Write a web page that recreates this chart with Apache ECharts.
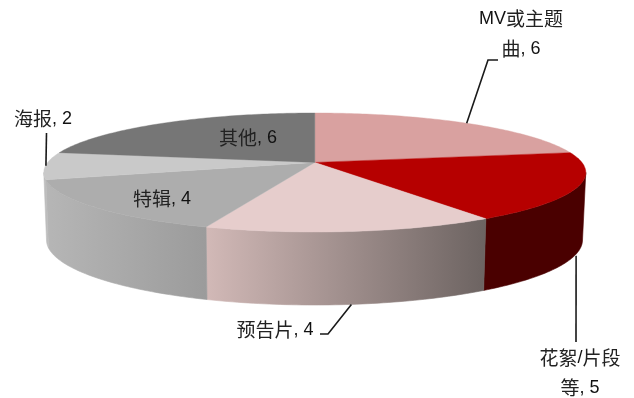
<!DOCTYPE html>
<html>
<head>
<meta charset="utf-8">
<style>html,body{margin:0;padding:0;background:#fff}#chart{width:634px;height:398px}</style>
<script src="https://cdn.jsdelivr.net/npm/echarts@6/dist/echarts.min.js"></script>
</head>
<body>
<div id="chart"></div>
<script>
// Content mix by category
const categories = ['MV或主题\n曲', '花絮/片段\n等', '预告片', '特辑', '海报', '其他'];
const values = [6, 5, 4, 4, 2, 6];

// Surface and side colours per category
const topColors = ['#d9a1a0', '#b60000', '#e6cdcc', '#adadad', '#c9c9c9', '#767676'];
const wallColors = [
  ['#c09090', '#c09090'],
  ['#4a0000', '#4a0000'],
  ['#d2b9b7', '#6c6361'],
  ['#b6b6b6', '#9b9b9b'],
  ['#bdbdbd', '#bdbdbd'],
  ['#6a6a6a', '#6a6a6a']
];

// Disc outlines: the upper face and the lower rim, with the perspective shift
const topDisc = { cx: 314.8, cy: 172.5, rx: 271, ry: 59.5 };
const bottomDisc = { cx: 314.5, cy: 240, rx: 268, ry: 65 };
const tilt = 0.17;
const wallFrom = 99.8, wallTo = 260.2;

// Label centres and leader bends, in page pixels
const labelCenters = [[521, 34], [580, 373], [275, 330], [162, 199], [43, 119], [248, 138]];
const leaderBends = [
  [[488, 60], [498, 60]],
  [[576, 342]],
  [[328, 334], [320, 334]],
  null,
  [[46.5, 133]],
  null
];
const leaderSurface = [topDisc, bottomDisc, bottomDisc, null, topDisc, null];
const leaderNudge = [0, 1.6, 0, 0, 0.4, 0];

const cjkFont = '19px "Noto Sans CJK SC", sans-serif';
const latinFont = '18px "Liberation Sans", sans-serif';
const total = values.reduce((a, b) => a + b, 0);

function sliceRange(i) {
  let start = 0;
  for (let k = 0; k < i; k++) start += values[k];
  return [start / total * 360, (start + values[i]) / total * 360];
}

// Projects a point of the unit circle onto a disc outline; angle runs clockwise from 12 o'clock
function project(disc, deg, radius) {
  const t = deg * Math.PI / 180;
  const x = Math.sin(t) * radius, y = Math.cos(t) * radius;
  const d = 1 + tilt * y;
  return [
    disc.cx + disc.rx * x * Math.sqrt(1 - tilt * tilt) / d,
    disc.cy - disc.ry * (y + tilt) / d
  ];
}

function arc(disc, from, to) {
  const pts = [];
  const n = Math.max(2, Math.ceil(Math.abs(to - from)));
  for (let k = 0; k <= n; k++) pts.push(project(disc, from + (to - from) * k / n, 1));
  return pts;
}

// Splits a label into runs so CJK and Latin glyphs get their own style
function richLabel(text) {
  return text.split('\n').map(line =>
    line.replace(/[\u4e00-\u9fff]+|[^\u4e00-\u9fff]+/g, run =>
      (/[\u4e00-\u9fff]/.test(run) ? '{c|' : '{n|') + run + '}')
  ).join('\n');
}

function renderWall(params) {
  const i = params.dataIndex;
  const [a, b] = sliceRange(i);
  const from = Math.max(a, wallFrom), to = Math.min(b, wallTo);
  if (from >= to) return { type: 'group', children: [] };
  const points = arc(topDisc, from, to).concat(arc(bottomDisc, to, from));
  const fill = new echarts.graphic.LinearGradient(0, 0, 1, 0, [
    { offset: 0, color: wallColors[i][0] },
    { offset: 1, color: wallColors[i][1] }
  ]);
  return {
    type: 'polygon',
    shape: { points },
    style: { fill, stroke: fill, lineWidth: 0.6 }
  };
}

function renderTop(params) {
  const i = params.dataIndex;
  const [a, b] = sliceRange(i);
  const points = [project(topDisc, 0, 0)].concat(arc(topDisc, a, b));
  return {
    type: 'polygon',
    shape: { points },
    style: { fill: topColors[i], stroke: topColors[i], lineWidth: 0.4 }
  };
}

function renderLabel(params, api) {
  const i = params.dataIndex;
  const [a, b] = sliceRange(i);
  const children = [{
    type: 'text',
    style: {
      text: richLabel(categories[i] + ', ' + api.value(0)),
      x: labelCenters[i][0],
      y: labelCenters[i][1],
      align: 'center',
      verticalAlign: 'middle',
      rich: {
        c: { font: cjkFont, fill: '#222222', lineHeight: 30 },
        n: { font: latinFont, fill: '#111111', lineHeight: 30 }
      }
    }
  }];
  if (leaderBends[i]) {
    const anchor = project(leaderSurface[i], (a + b) / 2, 1);
    anchor[0] += leaderNudge[i];
    children.push({
      type: 'polyline',
      shape: { points: [anchor].concat(leaderBends[i]) },
      style: { stroke: '#1a1a1a', lineWidth: 1.6, fill: null }
    });
  }
  return { type: 'group', children };
}

const chart = echarts.init(document.getElementById('chart'), null, { renderer: 'canvas' });
chart.setOption({
  backgroundColor: '#ffffff',
  animation: false,
  series: [
    { type: 'custom', coordinateSystem: 'none', z: 1, data: values, renderItem: renderWall, silent: true },
    { type: 'custom', coordinateSystem: 'none', z: 2, data: values, renderItem: renderTop, silent: true },
    { type: 'custom', coordinateSystem: 'none', z: 3, data: values, renderItem: renderLabel, silent: true }
  ]
});
</script>
</body>
</html>
